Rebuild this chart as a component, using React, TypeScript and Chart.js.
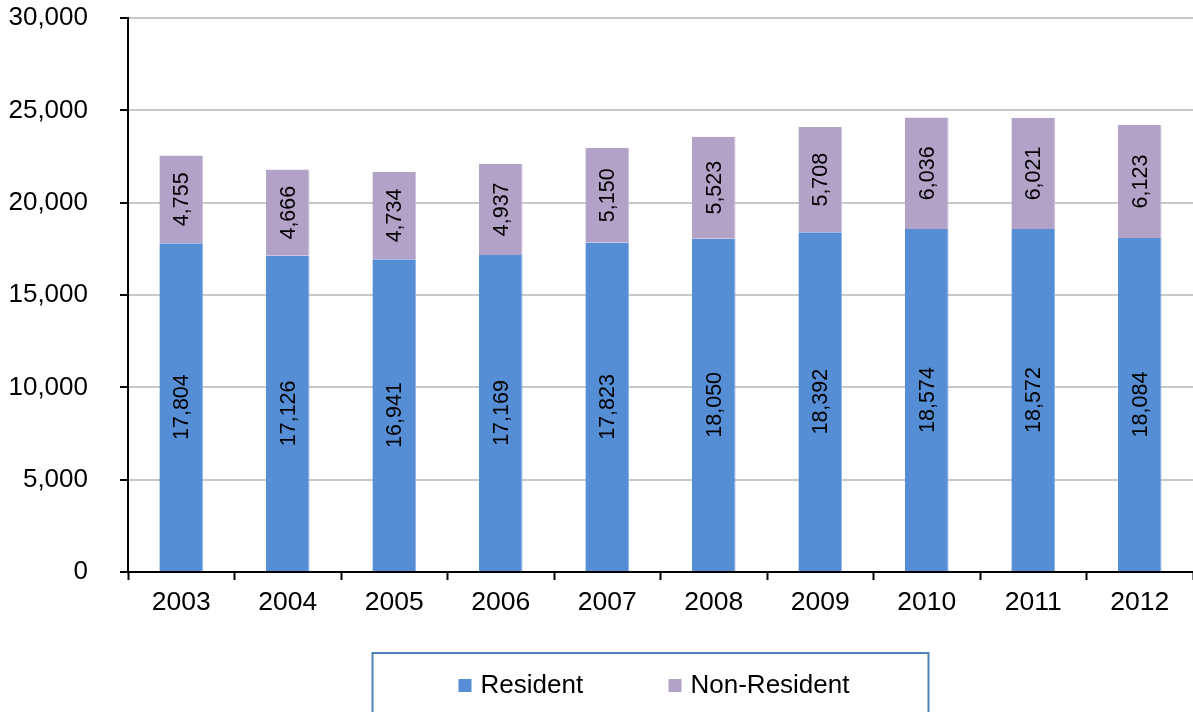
import React, { useEffect, useRef } from "react";
import { Chart, registerables } from "chart.js";

Chart.register(...registerables);

const categories = ["2003", "2004", "2005", "2006", "2007", "2008", "2009", "2010", "2011", "2012"];
const residentValues = [17804, 17126, 16941, 17169, 17823, 18050, 18392, 18574, 18572, 18084];
const nonResidentValues = [4755, 4666, 4734, 4937, 5150, 5523, 5708, 6036, 6021, 6123];
const seriesNames = ["Resident", "Non-Resident"];
const seriesColors = ["#558ED5", "#B3A2C7"];
const seriesEdge = ["#8DB3E2", "#CCC1DA"];
const yTicks = [0, 5000, 10000, 15000, 20000, 25000, 30000];

const FONT = "'Liberation Sans', Arial, sans-serif";

const fmt = (v: number) => v.toLocaleString("en-US");

const barLabelPlugin = {
  id: "barLabels",
  afterDatasetsDraw(chart: any) {
    const ctx = chart.ctx;
    ctx.save();
    ctx.font = `21.5px ${FONT}`;
    ctx.fillStyle = "#000";
    ctx.textAlign = "center";
    ctx.textBaseline = "middle";
    chart.data.datasets.forEach((ds: any, di: number) => {
      const meta = chart.getDatasetMeta(di);
      meta.data.forEach((bar: any, i: number) => {
        const cy = (bar.y + bar.base) / 2;
        ctx.save();
        ctx.translate(bar.x, cy);
        ctx.rotate(-Math.PI / 2);
        ctx.fillText(fmt(ds.data[i]), 0, 1);
        ctx.restore();
      });
    });
    ctx.restore();
  },
};

const boxLegendPlugin = {
  id: "boxLegend",
  afterDraw(chart: any) {
    const ctx = chart.ctx;
    const area = chart.chartArea;
    const center = (area.left + area.right) / 2 - 10;
    const boxW = 556;
    const boxLeft = center - boxW / 2;
    const boxTop = 653;
    ctx.save();
    ctx.strokeStyle = "#4F81BD";
    ctx.lineWidth = 2;
    ctx.strokeRect(boxLeft, boxTop, boxW, 120);
    ctx.font = `26px ${FONT}`;
    ctx.textBaseline = "middle";
    ctx.textAlign = "left";
    const itemY = 686;
    const starts = [boxLeft + 86, boxLeft + 296];
    chart.data.datasets.forEach((ds: any, i: number) => {
      const x = starts[i];
      ctx.fillStyle = ds.backgroundColor;
      ctx.fillRect(x, itemY - 7, 13, 13);
      ctx.fillStyle = "#000";
      ctx.fillText(ds.label, x + 22, itemY);
    });
    ctx.restore();
  },
};

export default function App() {
  const ref = useRef<HTMLCanvasElement | null>(null);

  useEffect(() => {
    document.body.style.margin = "0";
    if (!ref.current) return;
    const chart = new Chart(ref.current, {
      type: "bar",
      data: {
        labels: categories,
        datasets: [
          {
            label: seriesNames[0],
            data: residentValues,
            backgroundColor: seriesColors[0],
            borderColor: seriesEdge[0],
            borderWidth: { left: 0, top: 0, bottom: 0, right: 1 },
            borderSkipped: false,
            barPercentage: 0.41,
            categoryPercentage: 1,
          },
          {
            label: seriesNames[1],
            data: nonResidentValues,
            backgroundColor: seriesColors[1],
            borderColor: seriesEdge[1],
            borderWidth: { left: 0, top: 0, bottom: 0, right: 1 },
            borderSkipped: false,
            barPercentage: 0.41,
            categoryPercentage: 1,
          },
        ],
      },
      options: {
        responsive: false,
        animation: false,
        layout: { padding: { top: 18, right: 0, left: 0, bottom: 80 } },
        plugins: {
          legend: { display: false },
          tooltip: { enabled: false },
        },
        scales: {
          x: {
            stacked: true,
            grid: {
              offset: true,
              drawOnChartArea: false,
              drawTicks: true,
              tickLength: 8,
              tickColor: "#000",
              tickWidth: 2,
            },
            border: { display: true, color: "#000", width: 2 },
            ticks: {
              color: "#000",
              font: { family: FONT, size: 26.5 },
              padding: 7,
              maxRotation: 0,
            },
            afterFit: (scale: any) => {
              scale.height = 60;
              scale.paddingLeft = 0;
              scale.paddingRight = 0;
            },
          },
          y: {
            stacked: true,
            min: 0,
            max: 30000,
            afterBuildTicks: (scale: any) => {
              scale.ticks = yTicks.map((v) => ({ value: v }));
            },
            grid: {
              color: "#C8C8C8",
              lineWidth: 2,
              drawTicks: true,
              tickLength: 8,
              tickColor: "#000",
              tickWidth: 2,
            },
            border: { display: true, color: "#000", width: 2 },
            ticks: {
              color: "#000",
              font: { family: FONT, size: 26 },
              padding: 32,
              callback: (v: any) => fmt(Number(v)),
            },
            afterFit: (scale: any) => {
              scale.width = 128;
              scale.paddingTop = 0;
              scale.paddingBottom = 0;
            },
          },
        },
      },
      plugins: [barLabelPlugin, boxLegendPlugin],
    });
    return () => chart.destroy();
  }, []);

  return (
    <div style={{ width: 1193, height: 712 }}>
      <canvas ref={ref} width={1193} height={712} />
    </div>
  );
}
